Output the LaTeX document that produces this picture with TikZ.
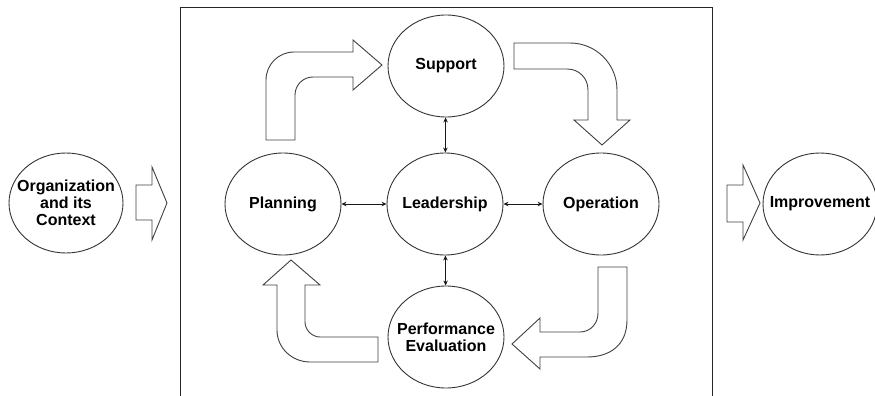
\documentclass[tikz,border=0pt]{standalone}
\usepackage{fontspec}
\setmainfont{Liberation Sans}
\usetikzlibrary{shapes.geometric,arrows.meta}
\tikzset{
  oval/.style={ellipse, draw=black!80, line width=0.9pt, minimum width=116pt, minimum height=102pt, inner sep=0pt},
  txt/.style={inner sep=0pt, align=center, font=\fontsize{16}{17}\selectfont\bfseries},
  blockarrow/.style={draw=black!75, line width=0.9pt, fill=white},
  link/.style={{Stealth[length=5pt,width=4.5pt]}-{Stealth[length=5pt,width=4.5pt]}, line width=0.8pt, black!90}
}
\begin{document}
\begin{tikzpicture}[x=1pt,y=-1pt]
\useasboundingbox (0,0) rectangle (875,396);
% frame
\draw[black!85, line width=0.9pt] (180,397) -- (180,7) -- (712,7) -- (712,397);
% ellipses
\node[oval, minimum width=114pt, minimum height=100pt] (org) at (66,203) {};
\node[oval] (sup) at (446,66) {};
\node[oval] (lead) at (445,204) {};
\node[oval] (plan) at (283,204) {};
\node[oval] (oper) at (601,204) {};
\node[oval] (perf) at (446,337) {};
\node[oval, minimum width=114pt] (imp) at (820,204) {};
% texts
\node[txt] (orgT) at (org) {Organization\\and its\\Context};
\node[txt] (supT) at (sup) {Support};
\node[txt] (leadT) at (lead) {Leadership};
\node[txt] (planT) at (plan) {Planning};
\node[txt] (operT) at (oper) {Operation};
\node[txt] (perfT) at (perf) {Performance\\Evaluation};
\node[txt] (impT) at (imp) {Improvement};
% connectors
\draw[link] (plan) -- (lead);
\draw[link] (lead) -- (oper);
\draw[link] (sup) -- (lead);
\draw[link] (lead) -- (perf);
% straight block arrows
\draw[blockarrow] (136,185) -- (152,185) -- (152,167) -- (167,203) -- (152,240) -- (152,220) -- (136,220) -- cycle;
\draw[blockarrow] (727,185) -- (743,185) -- (743,165) -- (760,203) -- (743,240) -- (743,222) -- (727,222) -- cycle;
% curved block arrow: Planning -> Support
\draw[blockarrow] (266,140) -- (266,80) .. controls (266,64.5) and (278.5,52) .. (294,52)
  -- (353,52) -- (353,40) -- (382,65) -- (353,90) -- (353,77) -- (313,77)
  .. controls (303,77) and (295,85) .. (295,95) -- (295,140) -- cycle;
% curved block arrow: Support -> Operation
\draw[blockarrow] (514,43) -- (570,43) .. controls (596,43) and (617,64) .. (617,90)
  -- (617,120) -- (630,120) -- (602,145) -- (574,120) -- (588,120) -- (588,90)
  .. controls (588,78) and (579,69) .. (567,69) -- (514,69) -- cycle;
% curved block arrow: Operation -> Performance Evaluation
\draw[blockarrow] (598,267) -- (598,313) .. controls (598,323.5) and (590.5,332) .. (580,332)
  -- (540,332) -- (540,318) -- (512,344) -- (540,369) -- (540,357) -- (587,357)
  .. controls (610,357) and (627,345) .. (627,320) -- (627,267) -- cycle;
% curved block arrow: Performance Evaluation -> Planning
\draw[blockarrow] (378,337) -- (320,337) .. controls (312,337) and (305,330) .. (305,322)
  -- (305,285) -- (320,285) -- (291,260) -- (263,285) -- (277,285) -- (277,330)
  .. controls (277,348) and (292,362) .. (310,362) -- (378,362) -- cycle;
\end{tikzpicture}
\end{document}
